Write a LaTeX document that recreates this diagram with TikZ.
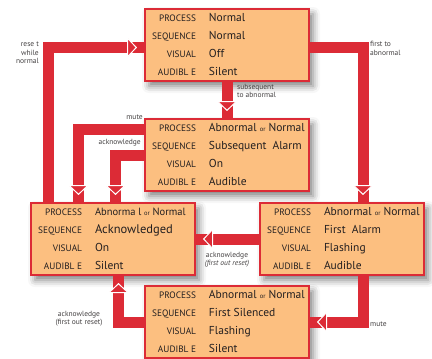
\documentclass[tikz,border=0pt]{standalone}
\usepackage{fontspec}
\setmainfont{PT Sans}
\usepackage{array}
\usetikzlibrary{arrows.meta,shadows.blur}
\definecolor{lred}{HTML}{DC2B36}
\definecolor{lfill}{HTML}{FCBF80}
\definecolor{ltext}{HTML}{231F20}
\newcolumntype{R}[1]{>{\raggedleft\arraybackslash}p{#1}}
\newcommand\lbl{\fontsize{9.3}{10}\selectfont}
\newcommand\smor{{\fontsize{6.5}{7}\selectfont or}}
\newcommand\statetab[4]{%
  {\fontsize{11.5}{13.2}\selectfont\renewcommand\arraystretch{1.36}%
  \begin{tabular}{@{}R{50pt}@{\hspace{13pt}}p{99pt}@{}}
  \lbl PROCESS & \mbox{#1}\\
  \lbl SEQUENCE & \mbox{#2}\\
  \lbl VISUAL & \mbox{#3}\\
  \lbl AUDIBL E & \mbox{#4}
  \end{tabular}}}
\begin{document}
\begin{tikzpicture}[x=1pt,y=-1pt,
  state/.style={draw=lred, line width=2pt, fill=lfill, minimum width=164pt,
    minimum height=72pt, inner sep=0pt, text=ltext,
    blur shadow={shadow xshift=4pt, shadow yshift=-5pt, shadow blur radius=7pt, shadow opacity=50}},
  band/.style={draw=lred, line width=11pt},
  tipped/.style={band, shorten >=7pt,
    -{Triangle[width=21pt,length=10pt,fill=lred,color=white,line width=1pt]}},
  note/.style={font=\fontsize{7.5}{8.5}\selectfont, text=ltext!85, inner sep=0pt}]
\useasboundingbox (0,0) rectangle (432,359);

\node[state] (b1) at (227,45) {\statetab{Normal}{Normal}{Off}{Silent}};
\node[state] (b2) at (227,155) {\statetab{Abnormal \smor{} Normal}{Subsequent\ \ Alarm}{On}{Audible}};
\node[state] (b3) at (113,239) {\statetab{\fontsize{10.5}{13.2}\selectfont Abnorma l \smor{} Normal}{\fontsize{12.5}{13.2}\selectfont Acknowledged}{On}{Silent}};
\node[state] (b4) at (342,239) {\statetab{Abnormal \smor{} Normal}{First\ \ Alarm}{Flashing}{Audible}};
\node[state] (b5) at (227,322) {\statetab{Abnormal \smor{} Normal}{First Silenced}{Flashing}{Silent}};

% reset while normal
\draw[band]   ([xshift=18.5pt]b3.north west) |- ([yshift=-2.5pt]b1.west);
\draw[tipped] ([xshift=18.5pt]b3.north west) |- ([yshift=-2.5pt]b1.west);
% first to abnormal
\draw[band]   ([yshift=-2.5pt]b1.east) -| ([xshift=21pt]b4.north);
\draw[tipped] ([yshift=-2.5pt]b1.east) -| ([xshift=21pt]b4.north);
% subsequent to abnormal
\draw[band]   (b1.south) -- (b2.north);
\draw[tipped] (b1.south) -- (b2.north);
% mute (b2 -> b3)
\draw[band]   ([yshift=25.5pt]b2.west) -| ([xshift=-34.5pt]b3.north);
\draw[tipped] ([yshift=25.5pt]b2.west) -| ([xshift=-34.5pt]b3.north);
% acknowledge (b2 -> b3)
\draw[band]   (b2.west) -| ([xshift=2.5pt]b3.north);
\draw[tipped] (b2.west) -| ([xshift=2.5pt]b3.north);
% acknowledge first out reset (b4 -> b3)
\draw[band]   (b4.west) -- (b3.east);
\draw[tipped] (b4.west) -- (b3.east);
% mute (b4 -> b5)
\draw[band]   ([xshift=21pt]b4.south) |- (b5.east);
\draw[tipped] ([xshift=21pt]b4.south) |- (b5.east);
% acknowledge first out reset (b5 -> b3)
\draw[band]   (b5.west) -| ([xshift=5.5pt]b3.south);
\draw[tipped] (b5.west) -| ([xshift=5.5pt]b3.south);

\node[note, align=right, anchor=north east] (n1) at (39,42) {rese t\\while\\normal};
\node[note, align=left, anchor=north west] (n2) at (370,41) {first to\\abnormal};
\node[note, align=left, anchor=north west] (n3) at (237,84) {subsequent\\to abnormal};
\node[note, anchor=east] (n4) at (143,117) {mute};
\node[note, anchor=east] (n5) at (141,143) {acknowledge};
\node[note, align=center, anchor=north] (n6) at (227,252) {acknowledge\\\itshape(first out reset)};
\node[note, anchor=west] (n7) at (370,324) {mute};
\node[note, align=center, anchor=north] (n8) at (79,311) {acknowledge\\(first out reset)};
\end{tikzpicture}
\end{document}
